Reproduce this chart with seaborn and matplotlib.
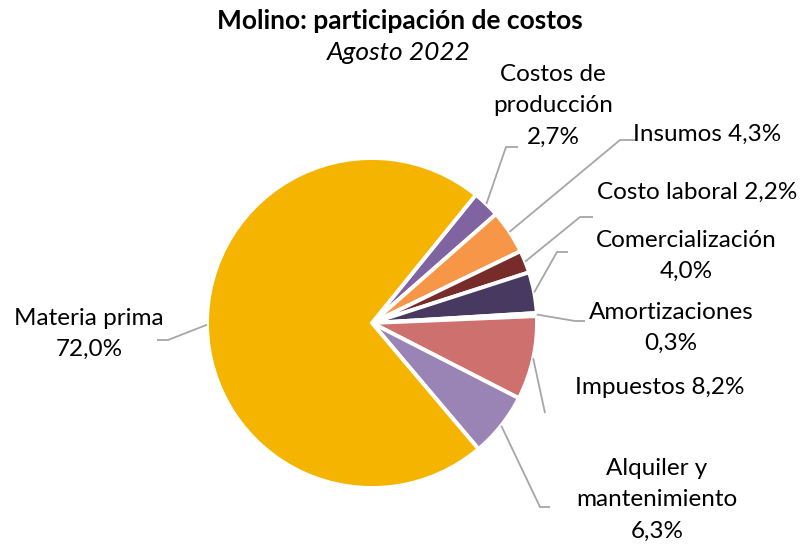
import matplotlib
matplotlib.use("Agg")
import matplotlib.pyplot as plt
import numpy as np
import seaborn as sns

# Datos
categorias = ["Costos de producción", "Insumos", "Costo laboral", "Comercialización",
              "Amortizaciones", "Impuestos", "Alquiler y mantenimiento", "Materia prima"]
participacion = [2.7, 4.3, 2.2, 4.0, 0.3, 8.2, 6.3, 72.0]
etiquetas = ["Costos de\nproducción\n2,7%", "Insumos 4,3%", "Costo laboral 2,2%",
             "Comercialización\n4,0%", "Amortizaciones\n0,3%", "Impuestos 8,2%",
             "Alquiler y\nmantenimiento\n6,3%", "Materia prima\n72,0%"]
colores = ["#8064A2", "#F79646", "#772C2A", "#47395F",
           "#B9CDE5", "#CE706E", "#9A84B6", "#F5B400"]

sns.set_theme(style="white")
plt.rcParams["font.family"] = ["Lato", "DejaVu Sans"]

W, H = 802, 544
fig = plt.figure(figsize=(W / 100, H / 100), dpi=100)
ax = fig.add_axes([0, 0, 1, 1])

cx, cy, r = 372, H - 323, 165

wedges, _ = ax.pie(
    participacion,
    colors=colores,
    startangle=51,
    counterclock=False,
    center=(cx, cy),
    radius=r,
    frame=True,
    wedgeprops=dict(edgecolor="white", linewidth=2.8),
)
ax.set_xlim(0, W)
ax.set_ylim(0, H)
ax.set_aspect("equal")
ax.axis("off")

# posiciones de etiquetas (px desde arriba): codo, fin de línea, texto
codos = [(506, 147), (620, 140), (580, 217), (557, 252), (575, 321), (545, 413), (540, 507), (168, 340)]
finales = [(518, 147), (635, 140), (593, 217), (568, 252), (585, 321), (545, 413), (550, 507), (157, 340)]
textos = [(553, 106), (707, 134), (697, 192), (686, 256), (671, 328), (660, 388), (657, 500), (89, 334)]

gris = "#A6A6A6"
for w, lab, codo, fin, txt in zip(wedges, etiquetas, codos, finales, textos):
    ang = np.deg2rad((w.theta1 + w.theta2) / 2)
    x0 = cx + r * np.cos(ang)
    y0 = cy + r * np.sin(ang)
    ax.plot([x0, codo[0], fin[0]], [y0, H - codo[1], H - fin[1]],
            color=gris, lw=1.3, solid_capstyle="butt")
    ax.text(txt[0], H - txt[1], lab, ha="center", va="center",
            fontsize=17.5, color="black", linespacing=1.6)

ax.text(400, H - 21, "Molino: participación de costos", ha="center", va="center",
        fontsize=19, fontweight="bold", color="black")
ax.text(399, H - 52, "Agosto 2022", ha="center", va="center",
        fontsize=19, style="italic", color="black")

fig.savefig("out.png", dpi=100)
